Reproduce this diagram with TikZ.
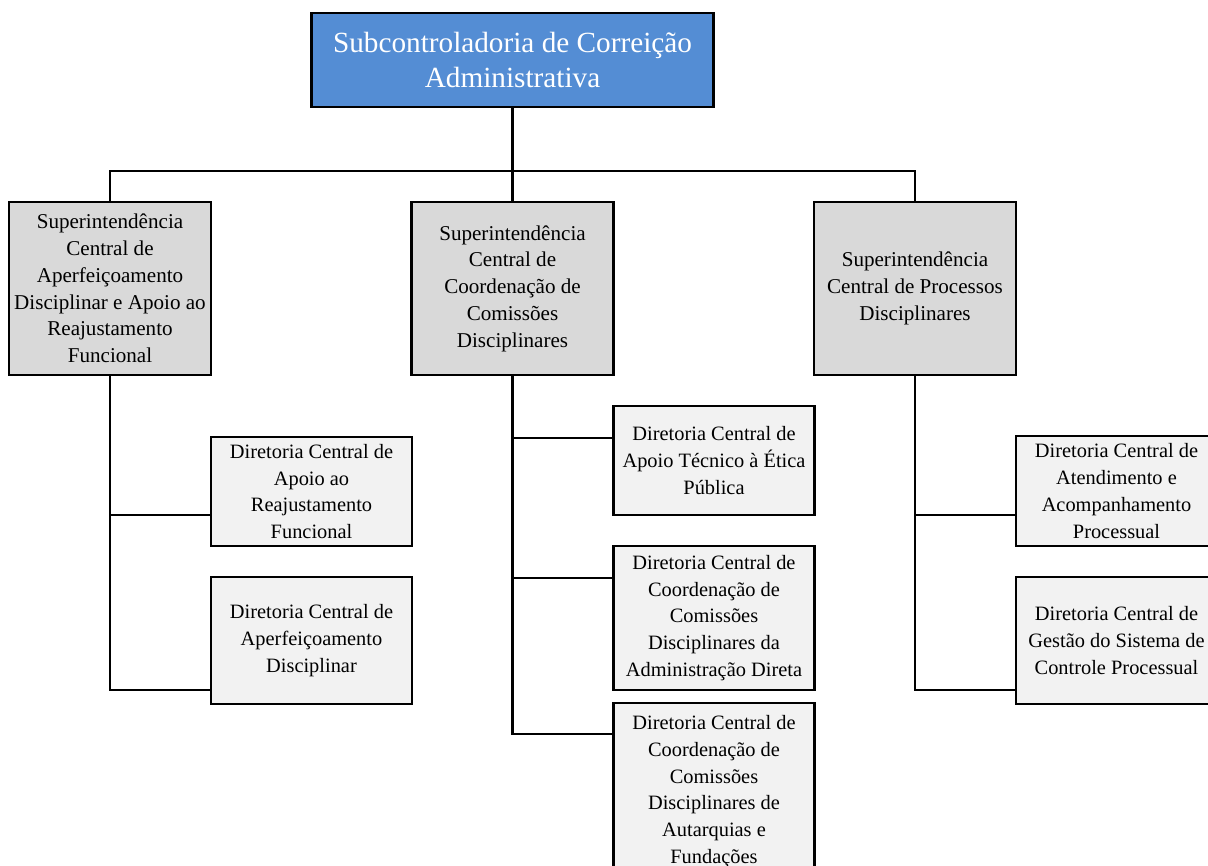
\documentclass[tikz,border=0pt]{standalone}
\usepackage{fontspec}
\setmainfont{Liberation Serif}
\definecolor{topblue}{RGB}{84,141,212}
\definecolor{supgray}{RGB}{217,217,217}
\definecolor{dirgray}{RGB}{242,242,242}
\begin{document}
\begin{tikzpicture}[x=0.025cm, y=-0.025cm,
  every node/.style={draw=black, line width=2pt, align=center, inner sep=2pt, outer sep=0pt},
  topbox/.style={fill=topblue, text=white, minimum width=10.05cm, minimum height=2.35cm, font=\fontsize{20.8}{25.5}\selectfont},
  supbox/.style={fill=supgray, minimum width=5.05cm, minimum height=4.325cm, font=\fontsize{15}{19}\selectfont},
  dirbox/.style={fill=dirgray, minimum width=5.025cm, font=\fontsize{14.5}{19}\selectfont},
  link/.style={line width=1.5pt}]
\clip (0,0) rectangle (1208,866);
\fill[white] (0,0) rectangle (1208,866);

\node[topbox] (top) at (512.5,60) {Subcontroladoria de Correição\\Administrativa};

\node[supbox] (supL) at (110,288.5) {Superintendência\\Central de\\Aperfeiçoamento\\Disciplinar e Apoio ao\\Reajustamento\\Funcional};
\node[supbox] (supM) at (512.5,288.5) {Superintendência\\Central de\\Coordenação de\\Comissões\\Disciplinares};
\node[supbox] (supR) at (915,288.5) {Superintendência\\Central de Processos\\Disciplinares};

\node[dirbox, minimum height=2.725cm] (dirLa) at (311.5,491.5) {Diretoria Central de\\Apoio ao\\Reajustamento\\Funcional};
\node[dirbox, minimum height=3.175cm] (dirLb) at (311.5,640.5) {Diretoria Central de\\Aperfeiçoamento\\Disciplinar};

\node[dirbox, minimum height=2.725cm] (dirMa) at (714,460.5) {Diretoria Central de\\Apoio Técnico à Ética\\Pública};
\node[dirbox, minimum height=3.6cm] (dirMb) at (714,618) {Diretoria Central de\\Coordenação de\\Comissões\\Disciplinares da\\Administração Direta};
\node[dirbox, minimum height=4.425cm] (dirMc) at (714,791.5) {Diretoria Central de\\Coordenação de\\Comissões\\Disciplinares de\\Autarquias e\\Fundações};

\node[dirbox, minimum height=2.75cm] (dirRa) at (1116.5,491) {Diretoria Central de\\Atendimento e\\Acompanhamento\\Processual};
\node[dirbox, minimum height=3.175cm] (dirRb) at (1116.5,640.5) {Diretoria Central de\\Gestão do Sistema de\\Controle Processual};

\coordinate (bus) at (512.5,171);
\draw[link] (top.south) -- (bus);
\draw[link] (supL.north) |- (bus) -| (supR.north);
\draw[link] (bus) -- (supM.north);

\draw[link] (supL.south) |- (dirLa.west |- 0,515);
\draw[link] (supL.south) |- (dirLb.west |- 0,690);

\draw[link] (supM.south) |- (dirMa.west |- 0,438);
\draw[link] (supM.south) |- (dirMb.west |- 0,578);
\draw[link] (supM.south) |- (dirMc.west |- 0,734);

\draw[link] (supR.south) |- (dirRa.west |- 0,515);
\draw[link] (supR.south) |- (dirRb.west |- 0,690);
\end{tikzpicture}
\end{document}
